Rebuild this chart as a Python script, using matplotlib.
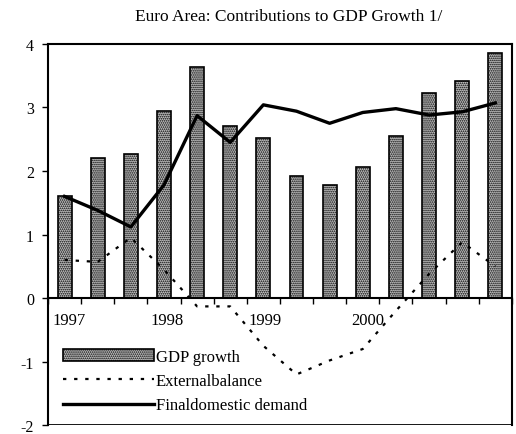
import matplotlib.pyplot as plt
import numpy as np

plt.rcParams['font.family'] = ['Liberation Serif', 'DejaVu Serif']
plt.rcParams['hatch.linewidth'] = 0.8
plt.rcParams['axes.unicode_minus'] = False

# quarterly data, 1997Q1 - 2000Q2
gdp_growth = [1.6, 2.2, 2.27, 2.95, 3.63, 2.7, 2.52, 1.92, 1.78, 2.07, 2.55, 3.23, 3.42, 3.85]
external_balance = [0.6, 0.57, 0.95, 0.45, -0.13, -0.13, -0.75, -1.2, -0.98, -0.8, -0.2, 0.38, 0.88, 0.5]
domestic_demand = [1.6, 1.38, 1.12, 1.78, 2.87, 2.45, 3.04, 2.94, 2.75, 2.92, 2.98, 2.88, 2.93, 3.07]
year_labels = ["1997", "1998", "1999", "2000"]
year_pos = [0.15, 3.1, 6.06, 9.15]

x = np.arange(len(gdp_growth))

fig = plt.figure(figsize=(5.16, 4.35), dpi=100)
ax = fig.add_axes([0.093, 0.02, 0.899, 0.877])

bars = ax.bar(x, gdp_growth, width=0.42, color="#c0c0c0", edgecolor="black",
              hatch="........", linewidth=1.2, label="GDP growth")
l1, = ax.plot(x, external_balance, color="black", lw=1.6, linestyle=(0, (1.5, 3.5)),
              label="Externalbalance")
l2, = ax.plot(x, domestic_demand, color="black", lw=2.4, label="Finaldomestic demand")

ax.set_xlim(-0.48, 13.37)
ax.set_ylim(-2, 4)
ax.set_yticks([-2, -1, 0, 1, 2, 3, 4])
ax.tick_params(axis="y", direction="out", length=4, width=1, labelsize=11.5, pad=6)

ax.spines["bottom"].set_position(("data", 0))
ax.set_xticks(np.arange(-0.5, 13.6, 1))
ax.tick_params(axis="x", direction="out", length=4, width=1, labelbottom=False)
ax.axhline(-2, color="black", lw=2)
for s in ["left", "right", "top", "bottom"]:
    ax.spines[s].set_linewidth(1.5)

for lab, p in zip(year_labels, year_pos):
    ax.text(p, -0.34, lab, ha="center", va="center", fontsize=12)

ax.legend([bars, l1, l2], ["GDP growth", "Externalbalance", "Finaldomestic demand"],
          loc="lower left", bbox_to_anchor=(0.01, 0.005), frameon=False,
          fontsize=12, handlelength=5.5, handletextpad=0.1, labelspacing=0.5,
          borderaxespad=0.2)

fig.text(0.56, 0.962, "Euro Area: Contributions to GDP Growth 1/", ha="center",
         va="center", fontsize=12.5)

fig.savefig("out.png", dpi=100)
